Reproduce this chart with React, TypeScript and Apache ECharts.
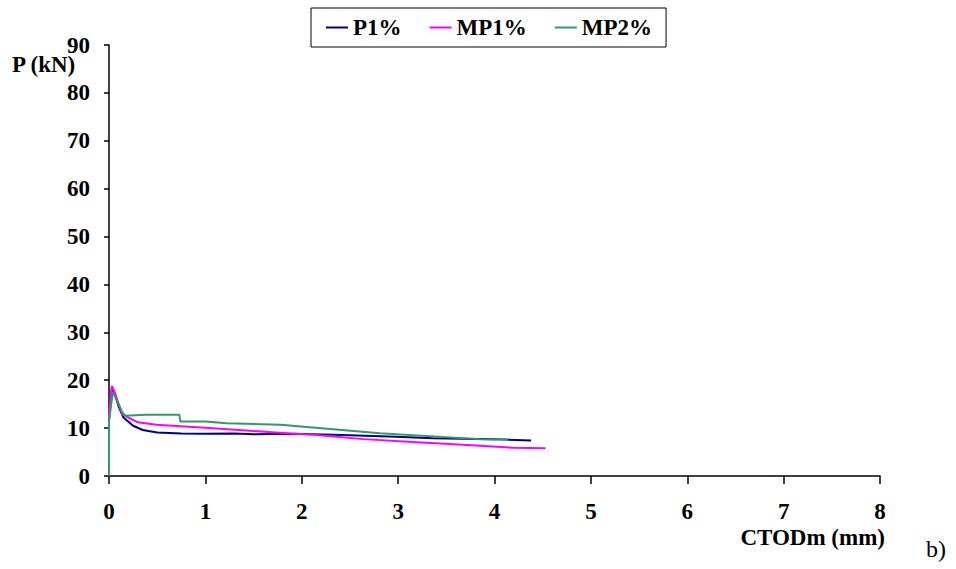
import React, { useEffect, useRef } from "react";
import * as echarts from "echarts";

const seriesNames = ["P1%", "MP1%", "MP2%"];
const seriesColors = ["#000080", "#FF00FF", "#339966"];

const p1: [number, number][] = [
  [0, 0], [0.0, 12], [0.03, 18.4], [0.06, 17.2], [0.1, 14.5], [0.15, 12.2], [0.25, 10.5],
  [0.35, 9.6], [0.5, 9.1], [0.75, 8.9], [1.0, 8.8], [1.3, 8.9], [1.5, 8.7],
  [1.9, 8.8], [2.33, 8.6], [2.98, 8.2], [3.36, 7.9], [4.0, 7.7], [4.38, 7.4],
];
const mp1: [number, number][] = [
  [0, 0], [0.0, 13], [0.03, 18.8], [0.06, 17.5], [0.1, 15.0], [0.14, 12.8], [0.3, 11.2],
  [0.49, 10.7], [1.0, 10.1], [1.5, 9.4], [1.88, 8.9], [2.12, 8.6], [2.64, 7.7],
  [3.15, 7.1], [3.67, 6.5], [4.19, 5.9], [4.53, 5.8],
];
const mp2: [number, number][] = [
  [0, 0], [0.0, 11.4], [0.04, 17.6], [0.1, 15.0], [0.14, 13.2], [0.17, 12.6], [0.38, 12.8],
  [0.73, 12.8], [0.74, 11.4], [1.0, 11.4], [1.22, 11.0], [1.78, 10.7], [2.81, 8.95],
  [3.84, 7.7], [4.14, 7.6],
];
const seriesData = [p1, mp1, mp2];

const xMin = 0, xMax = 8, xStep = 1;
const yMin = 0, yMax = 90, yStep = 10;

export default function App() {
  const ref = useRef<HTMLDivElement>(null);
  useEffect(() => {
    if (!ref.current) return;
    const chart = echarts.init(ref.current, null, { renderer: "svg" });
    const font = "'Liberation Serif', 'Times New Roman', serif";
    chart.setOption({
      animation: false,
      backgroundColor: "#ffffff",
      textStyle: { fontFamily: font },
      grid: { left: 109, right: 76, top: 45, bottom: 93, containLabel: false },
      legend: {
        data: seriesNames,
        left: 311,
        top: 8,
        padding: [8, 14, 8, 15],
        itemGap: 28,
        itemWidth: 22,
        itemHeight: 2,
        icon: "rect",
        borderColor: "#000",
        borderWidth: 1,
        textStyle: { fontFamily: font, fontWeight: "bold", fontSize: 23, color: "#000" },
      },
      xAxis: {
        type: "value",
        min: xMin,
        max: xMax,
        interval: xStep,
        splitLine: { show: false },
        axisLine: { onZero: false, lineStyle: { color: "#000", width: 1.5 } },
        axisTick: { show: true, inside: false, length: 8, lineStyle: { color: "#000", width: 1.5 } },
        axisLabel: { margin: 24, fontFamily: font, fontWeight: "bold", fontSize: 23, color: "#000" },
      },
      yAxis: {
        type: "value",
        min: yMin,
        max: yMax,
        interval: yStep,
        splitLine: { show: false },
        axisLine: { show: true, lineStyle: { color: "#000", width: 1.5 } },
        axisTick: { show: true, inside: false, length: 5, lineStyle: { color: "#000", width: 1.5 } },
        axisLabel: { margin: 19, fontFamily: font, fontWeight: "bold", fontSize: 23, color: "#000", padding: [6, 0, 0, 0] },
      },
      graphic: [
        { type: "text", left: 12, top: 53, style: { text: "P (kN)", font: `bold 23px ${font}`, fill: "#000" } },
        { type: "text", right: 71, top: 526, style: { text: "CTODm (mm)", font: `bold 23px ${font}`, fill: "#000" } },
        { type: "text", left: 926, top: 537, style: { text: "b)", font: `24px ${font}`, fill: "#000" } },
      ],
      series: seriesNames.map((name, i) => ({
        name,
        type: "line",
        data: seriesData[i],
        showSymbol: false,
        symbol: "none",
        lineStyle: { color: seriesColors[i], width: 2 },
        itemStyle: { color: seriesColors[i] },
        z: i === 2 ? 3 : 2,
      })),
    });
    return () => chart.dispose();
  }, []);
  return <div ref={ref} style={{ position: "fixed", left: 0, top: 0, width: 956, height: 569 }} />;
}
